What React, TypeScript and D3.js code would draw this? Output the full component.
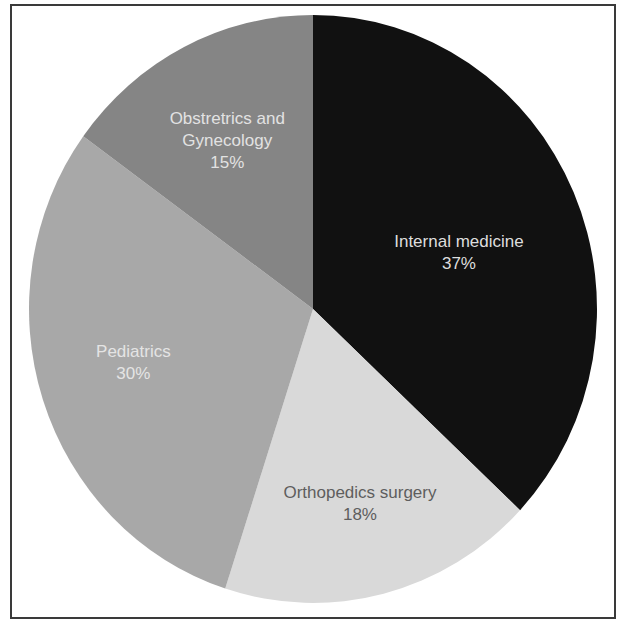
import React from "react";
import * as d3 from "d3";

// Share of cases by specialty, clockwise from 12 o'clock
const specialties = ["Internal medicine", "Orthopedics surgery", "Pediatrics", "Obstretrics and Gynecology"];
const shares = [37, 18, 30, 15];
const labelLines = [["Internal medicine"], ["Orthopedics surgery"], ["Pediatrics"], ["Obstretrics and", "Gynecology"]];
const fills = ["#111111", "#d9d9d9", "#a8a8a8", "#858585"];
const textColors = ["#dedede", "#5e5e5e", "#e4e4e4", "#e2e2e2"];

const W = 620;
const H = 621;
const cx = 313;
const cy = 309;
const rx = 284;
const ry = 294;

// label radius (fraction of pie radius) and vertical nudge per slice
const labelRadius = (i: number) => (i === 0 ? 0.56 : 0.665);
const labelNudge = [8, 5, -7, 5];

export default function App() {
  const data = specialties.map((name, i) => ({ name, value: shares[i], i }));
  const pie = d3.pie<any>().sort(null).value((d) => d.value);
  const arcs = pie(data);
  const arc = d3.arc<any>().innerRadius(0).outerRadius(rx);
  const sy = ry / rx;

  return (
    <svg
      width={W}
      height={H}
      style={{ position: "absolute", left: 0, top: 0, background: "#fff" }}
      fontFamily="'Liberation Sans', Arial, Helvetica, sans-serif"
    >
      <rect x={11} y={5} width={604} height={613} fill="none" stroke="#3a3a3a" strokeWidth={2} />
      <g transform={`translate(${cx},${cy}) scale(1,${sy})`}>
        {arcs.map((a) => (
          <path key={a.data.name} d={arc(a) as string} fill={fills[a.data.i]} />
        ))}
      </g>
      {arcs.map((a) => {
        const k = labelRadius(a.data.i);
        const labelArc = d3.arc<any>().innerRadius(rx * k).outerRadius(rx * k);
        const [lx, ly] = labelArc.centroid(a);
        const lines = [...labelLines[a.data.i], `${a.data.value}%`];
        const lh = 22;
        const x = cx + lx;
        const y0 = cy + ly * sy - ((lines.length - 1) * lh) / 2 + labelNudge[a.data.i];
        return (
          <text
            key={a.data.name}
            textAnchor="middle"
            fontSize={17}
            fill={textColors[a.data.i]}
          >
            {lines.map((t, j) => (
              <tspan key={j} x={x} y={y0 + j * lh} dy="0.35em">
                {t}
              </tspan>
            ))}
          </text>
        );
      })}
    </svg>
  );
}
